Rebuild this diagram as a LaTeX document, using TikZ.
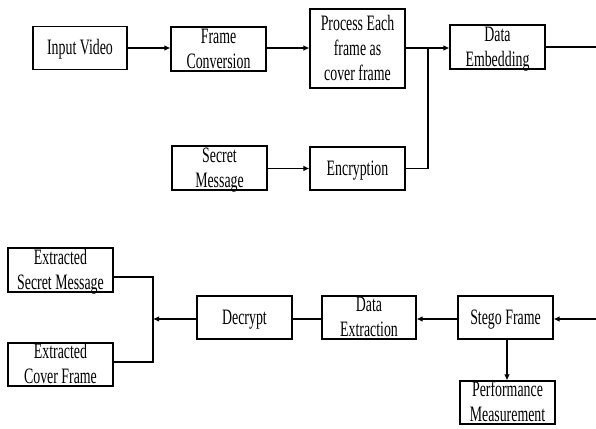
\documentclass[tikz,border=0pt]{standalone}
\usepackage{fontspec}
\setmainfont[FakeStretch=0.63]{Liberation Serif}
\usetikzlibrary{arrows.meta}
\newcommand{\boxtxt}[1]{\smash{\raisebox{-7pt}{\begin{tabular}{@{}c@{}}#1\end{tabular}}}}
\tikzset{
  blk/.style={draw, line width=1.1pt, minimum height=43pt, minimum width=95pt, inner sep=0pt,
    font=\fontsize{22}{25}\selectfont},
  conn/.style={line width=1.1pt},
  arr/.style={conn, -{Latex[length=6pt,width=5.5pt]}}
}
\begin{document}
\begin{tikzpicture}[x=1pt,y=-1pt]
\useasboundingbox (0,0) rectangle (596,428);
% top row
\node[blk, minimum width=94pt] (iv) at (80,48) {\boxtxt{Input Video}};
\node[blk, minimum height=44pt] (fc) at (218.5,49) {\boxtxt{Frame\\Conversion}};
\node[blk, minimum height=79pt] (pe) at (357.5,48.5) {\boxtxt{Process Each\\frame as\\cover frame}};
\node[blk, minimum height=44pt] (de) at (497.5,47) {\boxtxt{Data\\Embedding}};
\node[blk, minimum height=44pt] (sm) at (219.5,168) {\boxtxt{Secret\\Message}};
\node[blk] (en) at (357.5,168.5) {\boxtxt{Encryption}};
% bottom
\node[blk, minimum width=105pt, minimum height=44pt] (esm) at (60.5,270) {\boxtxt{Extracted\\Secret Message}};
\node[blk, minimum width=105pt] (ecf) at (60.5,364.5) {\boxtxt{Extracted\\Cover Frame}};
\node[blk] (dc) at (244.5,317.5) {\boxtxt{Decrypt}};
\node[blk, minimum width=94pt] (dx) at (369,317.5) {\boxtxt{Data\\Extraction}};
\node[blk] (sf) at (505.5,317.5) {\boxtxt{Stego Frame}};
\node[blk] (pm) at (507.5,402.5) {\boxtxt{Performance\\Measurement}};
% coordinates
\coordinate (j1) at (428,48);
\coordinate (out1) at (596,47);
\coordinate (in1) at (596,319);
\coordinate (j2) at (153,319);
% connectors top
\draw[arr] (iv.east |- 0,48) -- (fc.west |- 0,48);
\draw[arr] (fc.east |- 0,48) -- (pe.west |- 0,48);
\draw[arr] (pe.east |- 0,48) -- (de.west |- 0,48);
\draw[arr] (sm.east |- 0,168.5) -- (en.west |- 0,168.5);
\draw[conn] (en.east) -| (j1);
\draw[conn] (de.east) -- (out1);
% connectors bottom
\draw[arr] (in1) -- (sf.east |- in1);
\draw[arr] (sf.west |- in1) -- (dx.east |- in1);
\draw[conn] (dx.west |- in1) -- (dc.east |- in1);
\draw[arr] (dc.west |- in1) -- (j2);
\draw[conn] ([yshift=-7pt]esm.east) -| (j2) |- ([yshift=2.5pt]ecf.east);
\draw[arr] (sf.south -| 507,0) -- (pm.north -| 507,0);
\end{tikzpicture}
\end{document}
